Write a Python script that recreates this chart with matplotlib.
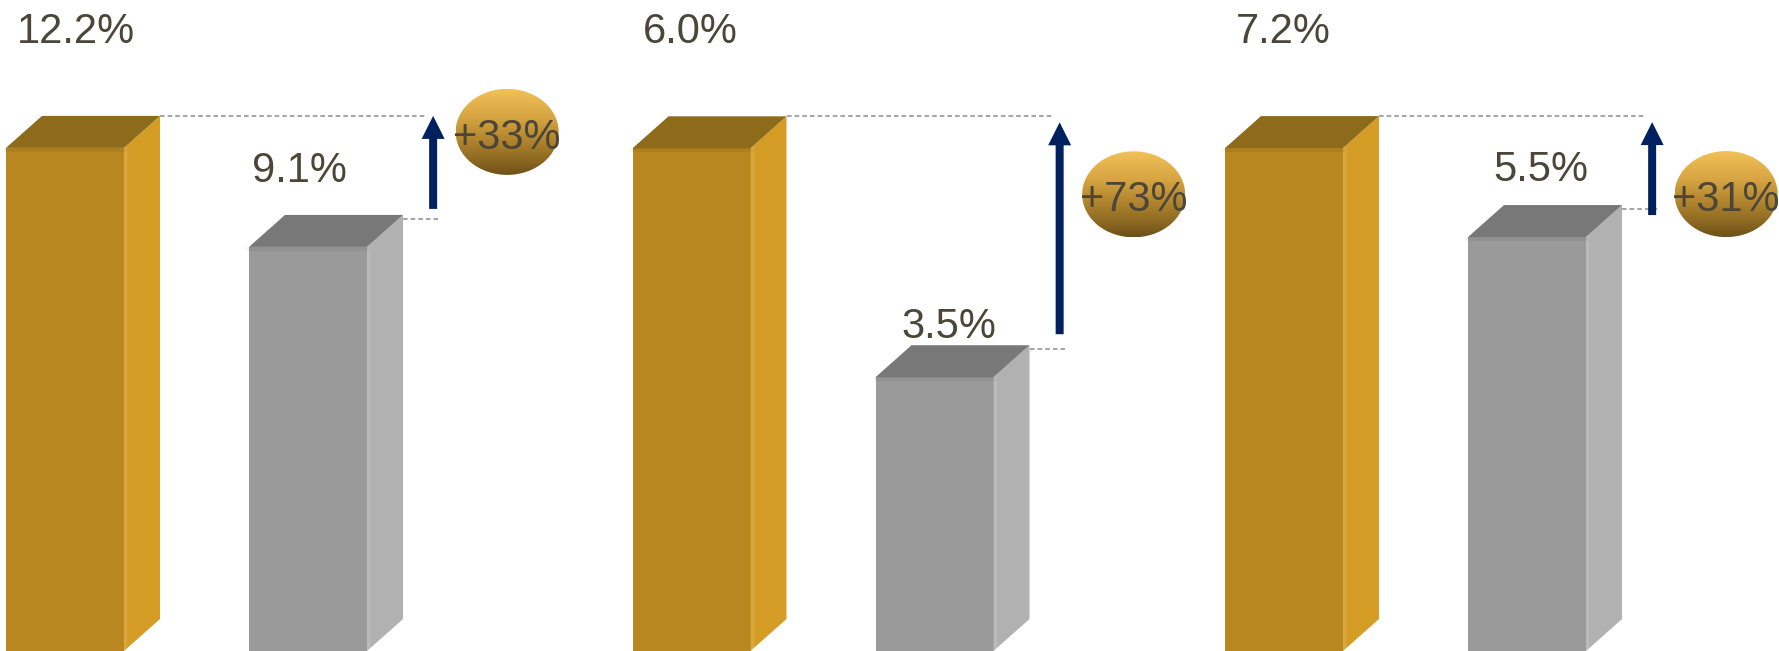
import numpy as np
import matplotlib.pyplot as plt
from matplotlib.patches import Polygon, Ellipse, FancyArrow
from matplotlib.colors import LinearSegmentedColormap
import matplotlib.transforms as mtransforms

plt.rcParams['font.family'] = ['Liberation Sans', 'DejaVu Sans']

# ---- data ----
gold_values = [12.2, 6.0, 7.2]
gray_values = [9.1, 3.5, 5.5]
change_labels = ["+33%", "+73%", "+31%"]

# ---- layout (pixels) ----
W, H = 1779, 651
UNIT_PX = 243                       # px between the two bars of a pair
panel_x0 = [65, 691.5, 1284]        # centre of gold bar, px from left
y_ranges = [(-3.55, 16.83), (0.51, 7.62), (-2.41, 10.03)]
gold_label_dx = [11, -1, -1]
gray_label_dx = [-9, 14, 14]
gray_label_rise = [48, 22, 39]
arrow_tail_rise = [6, 11, -10]
arrow_tip_drop = [0, 6, 6]
bubble_drop = [16, 78, 78]

GOLD = ("#B8871F", "#D59D25", "#8E6A1B")
GRAY = ("#9A9A9A", "#B1B1B1", "#787878")
TEXT = "#4B4638"
NAVY = "#002060"
DASH = "#8C8C8C"
FS = 30
BAR_W = 118 / UNIT_PX
DX = 36 / UNIT_PX
DY_PX = 32
XLIM = (-0.5, 2.2)

bubble_cmap = LinearSegmentedColormap.from_list(
    "bub", ["#6E5118", "#A67C2A", "#D6A441", "#F2C158"])

fig = plt.figure(figsize=(W / 100, H / 100), dpi=100)


def bar3d(ax, x, val, cols, py):
    front, side, top = cols
    y0 = ax.get_ylim()[0]
    dy = DY_PX * py
    l, r = x - BAR_W / 2, x + BAR_W / 2
    ax.bar(x, val - y0, bottom=y0, width=BAR_W, color=front, linewidth=0, zorder=2)
    ax.add_patch(Polygon([(r, y0), (r, val), (r + DX, val + dy), (r + DX, y0 + dy)],
                         closed=True, facecolor=side, lw=0, zorder=2))
    ax.add_patch(Polygon([(l, val), (r, val), (r + DX, val + dy), (l + DX, val + dy)],
                         closed=True, facecolor=top, lw=0, zorder=3))
    # soft edge highlights
    ax.plot([r + 0.006, r + 0.006], [y0 + 0.01, val], color="white", alpha=0.12, lw=2.5, zorder=3)
    ax.plot([l, r], [val - 2 * py, val - 2 * py], color="black", alpha=0.05, lw=3, zorder=3)
    return r + DX, val + dy


for i in range(3):
    unit_w = (XLIM[1] - XLIM[0]) * UNIT_PX
    left = panel_x0[i] - (0 - XLIM[0]) * UNIT_PX
    ax = fig.add_axes([left / W, 0, unit_w / W, 1])
    ax.set_xlim(*XLIM)
    ax.set_ylim(*y_ranges[i])
    ax.axis("off")
    ymin, ymax = y_ranges[i]
    py = (ymax - ymin) / H           # data units per pixel
    px = 1 / UNIT_PX

    g, s = gold_values[i], gray_values[i]
    gx_r, g_back = bar3d(ax, 0, g, GOLD, py)
    sx_r, s_back = bar3d(ax, 1, s, GRAY, py)

    arrow_x = 1.515
    # dashed guide lines
    ax.plot([gx_r, arrow_x - 0.03], [g_back, g_back], color=DASH, lw=1.1,
            linestyle=(0, (3, 2)), zorder=1)
    ax.plot([sx_r, arrow_x + 0.02], [s_back - 4 * py, s_back - 4 * py], color=DASH, lw=1.1,
            linestyle=(0, (3, 2)), zorder=1)

    # arrow
    tail = s_back + arrow_tail_rise[i] * py
    tip = g_back - arrow_tip_drop[i] * py
    ax.add_patch(FancyArrow(arrow_x, tail, 0, tip - tail, width=8 * px,
                            head_width=23 * px, head_length=23 * py,
                            length_includes_head=True, color=NAVY, lw=0, zorder=4))

    # bubble
    bx = arrow_x + 74 * px
    by = g_back - bubble_drop[i] * py
    bw, bh = 103 * px, 86 * py
    ell = Ellipse((bx, by), bw, bh, facecolor="none", lw=0)
    ax.add_patch(ell)
    grad = np.linspace(0, 1, 256).reshape(-1, 1)
    im = ax.imshow(grad, cmap=bubble_cmap, origin="lower", aspect="auto",
                   extent=[bx - bw / 2, bx + bw / 2, by - bh / 2, by + bh / 2], zorder=5)
    im.set_clip_path(ell)
    ax.text(bx, by - 17 * py, change_labels[i], ha="center", va="baseline",
            fontsize=FS, color=TEXT, zorder=6)

    # value labels
    trans = mtransforms.blended_transform_factory(ax.transData, ax.transAxes)
    ax.text(0 + gold_label_dx[i] * px, 1 - (28 + 15) / H, f"{g:.1f}%", transform=trans,
            ha="center", va="baseline", fontsize=FS, color=TEXT)
    ax.text(1 + gray_label_dx[i] * px, s_back + (gray_label_rise[i] - 15) * py, f"{s:.1f}%",
            ha="center", va="baseline", fontsize=FS, color=TEXT)

    ax.set_xlim(*XLIM)
    ax.set_ylim(*y_ranges[i])

fig.savefig("out.png", dpi=100, facecolor="white")
